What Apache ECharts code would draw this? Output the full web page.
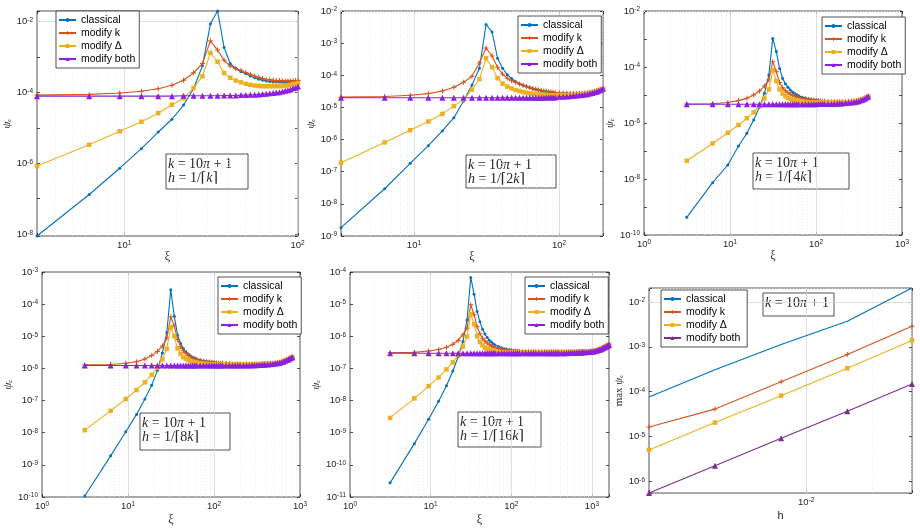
<!DOCTYPE html>
<html>
<head>
<meta charset="utf-8">
<script src="https://cdn.jsdelivr.net/npm/echarts@6/dist/echarts.min.js"></script>
<style>
  html, body { margin: 0; padding: 0; background: #fff; }
  #chart { width: 920px; height: 529px; }
</style>
</head>
<body>
<div id="chart"></div>
<script>
// ---- data: mode numbers n (xi = n*pi) and log10(psi_c) ----

// h = 1/ceil(k)
const p1Modes = [1,2,3,4,5,6,7,8,9,10,11,12,13,14,15,16,17,18,19,20,21,22,23,24,25,26,27,28,29,30,31,32];
const p1Classical = [-8.05,-6.88,-6.14,-5.59,-5.12,-4.76,-4.36,-3.90,-3.25,-2.07,-1.71,-2.74,-3.19,-3.33,-3.42,-3.48,-3.54,-3.59,-3.63,-3.66,-3.68,-3.70,-3.71,-3.71,-3.71,-3.71,-3.71,-3.71,-3.71,-3.70,-3.70,-3.70];
const p1ModK = [-4.08,-4.06,-4.02,-3.97,-3.90,-3.80,-3.66,-3.45,-3.19,-2.55,-2.81,-3.10,-3.26,-3.33,-3.38,-3.44,-3.49,-3.54,-3.58,-3.61,-3.64,-3.65,-3.66,-3.67,-3.67,-3.68,-3.68,-3.68,-3.68,-3.68,-3.67,-3.67];
const p1ModDelta = [-6.08,-5.48,-5.10,-4.83,-4.59,-4.35,-4.17,-3.88,-3.55,-2.89,-3.14,-3.46,-3.59,-3.67,-3.72,-3.76,-3.79,-3.81,-3.82,-3.83,-3.83,-3.83,-3.83,-3.83,-3.83,-3.82,-3.81,-3.80,-3.79,-3.77,-3.76,-3.74];
const p1ModBoth = [-4.11,-4.11,-4.11,-4.11,-4.11,-4.11,-4.10,-4.10,-4.10,-4.10,-4.10,-4.09,-4.09,-4.09,-4.08,-4.08,-4.07,-4.07,-4.06,-4.05,-4.04,-4.03,-4.02,-4.01,-4.00,-3.98,-3.96,-3.94,-3.92,-3.89,-3.87,-3.84];

// h = 1/ceil(2k)
const p2Modes = [1,2,3,4,5,6,7,8,9,10,11,12,13,14,15,16,17,18,19,20,21,22,23,24,25,26,27,28,29,30,32,34,36,38,40,42,44,46,48,50,52,54,56,58,60,62,64];
const p2Classical = [-8.74,-7.53,-6.74,-6.19,-5.73,-5.32,-4.80,-4.30,-3.78,-2.42,-2.65,-3.47,-3.78,-3.98,-4.10,-4.20,-4.26,-4.31,-4.35,-4.39,-4.42,-4.44,-4.46,-4.48,-4.50,-4.51,-4.52,-4.53,-4.54,-4.55,-4.56,-4.56,-4.57,-4.57,-4.57,-4.57,-4.57,-4.56,-4.55,-4.54,-4.53,-4.52,-4.50,-4.48,-4.46,-4.44,-4.42];
const p2ModK = [-4.68,-4.66,-4.62,-4.57,-4.49,-4.37,-4.22,-4.03,-3.61,-3.15,-3.40,-3.75,-3.96,-4.09,-4.17,-4.22,-4.27,-4.31,-4.35,-4.38,-4.41,-4.43,-4.45,-4.47,-4.49,-4.50,-4.51,-4.52,-4.53,-4.54,-4.55,-4.56,-4.56,-4.57,-4.57,-4.57,-4.57,-4.56,-4.55,-4.54,-4.53,-4.52,-4.50,-4.48,-4.46,-4.44,-4.42];
const p2ModDelta = [-6.72,-6.09,-5.71,-5.44,-5.20,-4.96,-4.75,-4.45,-4.12,-3.47,-3.75,-4.09,-4.26,-4.35,-4.41,-4.46,-4.49,-4.52,-4.54,-4.56,-4.57,-4.58,-4.59,-4.60,-4.61,-4.61,-4.62,-4.62,-4.62,-4.62,-4.62,-4.62,-4.62,-4.61,-4.61,-4.60,-4.60,-4.59,-4.58,-4.57,-4.55,-4.54,-4.52,-4.50,-4.47,-4.45,-4.42];
const p2ModBoth = [-4.70,-4.70,-4.70,-4.70,-4.70,-4.70,-4.70,-4.70,-4.70,-4.70,-4.70,-4.70,-4.70,-4.70,-4.70,-4.70,-4.70,-4.70,-4.70,-4.70,-4.70,-4.70,-4.70,-4.70,-4.70,-4.69,-4.69,-4.69,-4.69,-4.69,-4.67,-4.67,-4.66,-4.65,-4.64,-4.63,-4.62,-4.61,-4.60,-4.59,-4.57,-4.55,-4.53,-4.51,-4.48,-4.45,-4.42];

// h = 1/ceil(4k)
const p3Modes = [1,2,3,4,5,6,7,8,9,10,11,12,13,14,15,16,17,18,19,20,22,24,26,28,30,32,34,36,38,40,44,48,52,56,60,64,70,76,82,88,94,100,106,112,118,124,129];
const p3Classical = [-9.37,-8.13,-7.50,-6.82,-6.37,-5.89,-5.44,-4.94,-4.29,-2.98,-3.45,-4.05,-4.40,-4.60,-4.72,-4.82,-4.89,-4.95,-4.99,-5.03,-5.08,-5.11,-5.14,-5.16,-5.18,-5.19,-5.20,-5.21,-5.22,-5.23,-5.24,-5.25,-5.25,-5.25,-5.25,-5.25,-5.24,-5.23,-5.22,-5.21,-5.20,-5.18,-5.16,-5.13,-5.10,-5.07,-5.05];
const p3ModK = [-5.32,-5.31,-5.27,-5.20,-5.12,-5.00,-4.86,-4.68,-4.46,-3.81,-4.17,-4.55,-4.74,-4.85,-4.92,-4.97,-5.01,-5.04,-5.07,-5.09,-5.12,-5.14,-5.16,-5.17,-5.18,-5.19,-5.20,-5.21,-5.22,-5.22,-5.23,-5.24,-5.24,-5.24,-5.24,-5.24,-5.24,-5.23,-5.22,-5.21,-5.20,-5.18,-5.16,-5.13,-5.10,-5.07,-5.05];
const p3ModDelta = [-7.35,-6.73,-6.35,-6.07,-5.83,-5.62,-5.39,-5.12,-4.80,-4.11,-4.50,-4.80,-4.95,-5.04,-5.10,-5.14,-5.17,-5.19,-5.21,-5.22,-5.24,-5.25,-5.26,-5.27,-5.27,-5.27,-5.27,-5.27,-5.27,-5.27,-5.27,-5.27,-5.27,-5.27,-5.27,-5.27,-5.26,-5.26,-5.25,-5.24,-5.22,-5.20,-5.18,-5.15,-5.11,-5.08,-5.05];
const p3ModBoth = [-5.33,-5.33,-5.33,-5.33,-5.33,-5.33,-5.33,-5.33,-5.33,-5.33,-5.33,-5.33,-5.33,-5.33,-5.33,-5.33,-5.33,-5.33,-5.33,-5.33,-5.33,-5.33,-5.33,-5.33,-5.33,-5.33,-5.32,-5.32,-5.32,-5.32,-5.32,-5.32,-5.31,-5.31,-5.30,-5.30,-5.29,-5.28,-5.27,-5.26,-5.24,-5.22,-5.19,-5.17,-5.13,-5.09,-5.05];

// h = 1/ceil(8k)
const p4Modes = [1,2,3,4,5,6,7,8,9,10,11,12,13,14,15,16,17,18,19,20,22,24,26,28,30,32,34,36,38,40,44,48,52,56,60,64,70,76,82,88,94,100,106,112,118,124,134,144,154,164,174,184,194,204,214,224,234,244,254,259];
const p4Classical = [-9.97,-8.72,-7.97,-7.43,-6.95,-6.52,-6.06,-5.52,-4.88,-3.55,-4.38,-4.96,-5.22,-5.38,-5.48,-5.55,-5.61,-5.65,-5.68,-5.71,-5.74,-5.76,-5.78,-5.79,-5.80,-5.81,-5.82,-5.83,-5.83,-5.84,-5.85,-5.86,-5.86,-5.86,-5.86,-5.86,-5.87,-5.87,-5.87,-5.86,-5.86,-5.86,-5.86,-5.86,-5.85,-5.85,-5.85,-5.84,-5.84,-5.83,-5.82,-5.81,-5.79,-5.77,-5.75,-5.73,-5.70,-5.68,-5.66,-5.65];
const p4ModK = [-5.89,-5.88,-5.84,-5.79,-5.71,-5.60,-5.47,-5.30,-5.05,-4.40,-4.68,-5.10,-5.32,-5.45,-5.53,-5.59,-5.64,-5.68,-5.71,-5.73,-5.76,-5.78,-5.79,-5.80,-5.81,-5.82,-5.83,-5.83,-5.84,-5.84,-5.85,-5.85,-5.86,-5.86,-5.86,-5.86,-5.87,-5.87,-5.87,-5.86,-5.86,-5.86,-5.86,-5.86,-5.85,-5.85,-5.85,-5.84,-5.84,-5.83,-5.82,-5.81,-5.79,-5.77,-5.75,-5.73,-5.70,-5.68,-5.66,-5.65];
const p4ModDelta = [-7.92,-7.32,-6.95,-6.67,-6.43,-6.20,-5.98,-5.72,-5.39,-4.71,-5.00,-5.38,-5.55,-5.65,-5.70,-5.74,-5.77,-5.79,-5.81,-5.82,-5.84,-5.85,-5.86,-5.87,-5.87,-5.87,-5.88,-5.88,-5.88,-5.88,-5.88,-5.88,-5.88,-5.88,-5.88,-5.88,-5.88,-5.88,-5.88,-5.88,-5.87,-5.87,-5.87,-5.87,-5.86,-5.86,-5.86,-5.85,-5.85,-5.84,-5.83,-5.82,-5.80,-5.78,-5.76,-5.74,-5.71,-5.69,-5.66,-5.65];
const p4ModBoth = [-5.91,-5.91,-5.91,-5.91,-5.91,-5.91,-5.91,-5.91,-5.91,-5.91,-5.91,-5.91,-5.91,-5.91,-5.91,-5.91,-5.91,-5.91,-5.91,-5.91,-5.91,-5.91,-5.91,-5.91,-5.91,-5.91,-5.91,-5.91,-5.91,-5.91,-5.91,-5.91,-5.91,-5.91,-5.91,-5.91,-5.91,-5.91,-5.91,-5.90,-5.90,-5.90,-5.89,-5.89,-5.89,-5.88,-5.88,-5.87,-5.86,-5.85,-5.84,-5.83,-5.81,-5.79,-5.76,-5.74,-5.72,-5.69,-5.66,-5.65];

// h = 1/ceil(16k)
const p5Modes = [1,2,3,4,5,6,7,8,9,10,11,12,13,14,15,16,17,18,19,20,22,24,26,28,30,32,34,36,38,40,44,48,52,56,60,64,70,76,82,88,94,100,106,112,118,124,134,144,154,164,174,184,194,204,214,224,234,244,254,270,286,302,318,334,350,366,382,398,414,430,446,462,478,494,510,518];
const p5Classical = [-10.56,-9.34,-8.58,-8.02,-7.54,-7.08,-6.63,-6.16,-5.49,-4.17,-4.69,-5.23,-5.55,-5.78,-5.93,-6.04,-6.12,-6.18,-6.23,-6.27,-6.32,-6.36,-6.39,-6.41,-6.42,-6.44,-6.45,-6.45,-6.46,-6.46,-6.47,-6.47,-6.48,-6.48,-6.48,-6.48,-6.48,-6.48,-6.48,-6.48,-6.48,-6.48,-6.48,-6.48,-6.48,-6.48,-6.48,-6.48,-6.48,-6.48,-6.48,-6.48,-6.48,-6.48,-6.47,-6.47,-6.47,-6.47,-6.47,-6.47,-6.47,-6.46,-6.46,-6.45,-6.44,-6.43,-6.41,-6.40,-6.38,-6.36,-6.34,-6.32,-6.30,-6.28,-6.27,-6.26];
const p5ModK = [-6.51,-6.50,-6.46,-6.41,-6.34,-6.25,-6.13,-5.95,-5.75,-5.02,-5.33,-5.70,-5.92,-6.06,-6.15,-6.21,-6.26,-6.30,-6.33,-6.35,-6.38,-6.40,-6.42,-6.43,-6.44,-6.45,-6.46,-6.46,-6.47,-6.47,-6.48,-6.48,-6.48,-6.48,-6.48,-6.48,-6.48,-6.48,-6.48,-6.48,-6.48,-6.48,-6.48,-6.48,-6.48,-6.48,-6.48,-6.48,-6.48,-6.48,-6.48,-6.48,-6.48,-6.48,-6.47,-6.47,-6.47,-6.47,-6.47,-6.47,-6.47,-6.46,-6.46,-6.45,-6.44,-6.43,-6.41,-6.40,-6.38,-6.36,-6.34,-6.32,-6.30,-6.28,-6.27,-6.26];
const p5ModDelta = [-8.54,-7.93,-7.55,-7.28,-7.03,-6.81,-6.58,-6.32,-6.01,-5.31,-5.62,-6.00,-6.18,-6.28,-6.35,-6.39,-6.42,-6.44,-6.46,-6.47,-6.49,-6.50,-6.50,-6.51,-6.51,-6.51,-6.51,-6.51,-6.51,-6.51,-6.51,-6.51,-6.51,-6.51,-6.51,-6.51,-6.51,-6.51,-6.51,-6.51,-6.51,-6.51,-6.51,-6.51,-6.51,-6.51,-6.51,-6.51,-6.51,-6.51,-6.50,-6.50,-6.50,-6.50,-6.50,-6.49,-6.49,-6.49,-6.49,-6.49,-6.48,-6.48,-6.47,-6.46,-6.45,-6.44,-6.42,-6.41,-6.39,-6.37,-6.35,-6.33,-6.31,-6.29,-6.27,-6.26];
const p5ModBoth = [-6.53,-6.53,-6.53,-6.53,-6.53,-6.53,-6.53,-6.53,-6.53,-6.53,-6.53,-6.53,-6.53,-6.53,-6.53,-6.53,-6.53,-6.53,-6.53,-6.53,-6.53,-6.53,-6.53,-6.53,-6.53,-6.53,-6.53,-6.53,-6.53,-6.53,-6.53,-6.53,-6.53,-6.53,-6.53,-6.53,-6.53,-6.53,-6.53,-6.53,-6.53,-6.53,-6.53,-6.53,-6.53,-6.53,-6.53,-6.53,-6.53,-6.52,-6.52,-6.52,-6.52,-6.51,-6.51,-6.51,-6.51,-6.50,-6.50,-6.50,-6.49,-6.49,-6.48,-6.47,-6.46,-6.45,-6.43,-6.42,-6.40,-6.38,-6.36,-6.34,-6.32,-6.30,-6.28,-6.26];

// max over xi versus h
const hValues = [1/519, 1/260, 1/130, 1/65, 1/33];
const maxClassical = [-4.12, -3.51, -2.95, -2.43, -1.69];
const maxModK = [-4.79, -4.39, -3.78, -3.17, -2.54];
const maxModDelta = [-5.30, -4.69, -4.09, -3.48, -2.86];
const maxModBoth = [-6.26, -5.65, -5.04, -4.44, -3.83];

const seriesNames = ['classical', 'modify k', 'modify \u0394', 'modify both'];

// ---- styling ----
const SANS = 'Liberation Sans, Arial, Helvetica, sans-serif';
const SERIF = 'Liberation Serif, DejaVu Serif, Times New Roman, serif';
const AX = '#262626';
const COLORS = ['#0072bd', '#d95319', '#edb120', '#8c1fe0'];
const PLUS = 'path://M4,0H6V4H10V6H6V10H4V6H0V4H4Z';
const SYMBOLS = [['circle', 3], [PLUS, 5], ['rect', 4.5], ['triangle', 6]];
const MAJOR = { color: '#d8d8d8', width: 0.8, type: 'solid' };
const MINOR = { color: '#e4e4e4', width: 0.7, type: [1, 2] };

const tickRich = {
  b: { fontFamily: SANS, fontSize: 9.5, color: AX, lineHeight: 10, padding: [4, 0, 0, 0], verticalAlign: 'bottom' },
  e: { fontFamily: SANS, fontSize: 6.5, color: AX, lineHeight: 7, verticalAlign: 'top' }
};
const expFormatter = (labeled) => (v) => {
  const e = Math.log10(v), r = Math.round(e);
  if (Math.abs(e - r) > 1e-6 || labeled.indexOf(r) < 0) return '';
  return '{b|10}{e|' + r + '}';
};

const pts = (xs, exps) => xs.map((x, i) => [x, Math.pow(10, exps[i])]);
const xiOf = (modes) => modes.map((n) => n * Math.PI);

const panels = [
  { rect: [37, 11, 261, 225], xs: xiOf(p1Modes), ys: [p1Classical, p1ModK, p1ModDelta, p1ModBoth],
    xr: [Math.PI, 32 * Math.PI], yr: null, xl: [1, 2], yl: [-2, -4, -6, -8],
    legend: [56, 11], box: [166, 154, 82, 35], mult: '' },
  { rect: [341, 11, 262, 225], xs: xiOf(p2Modes), ys: [p2Classical, p2ModK, p2ModDelta, p2ModBoth],
    xr: [Math.PI, 64 * Math.PI], yr: [1e-9, 1e-2], xl: [1, 2], yl: [-2, -3, -4, -5, -6, -7, -8, -9],
    legend: [518, 16], box: [466, 155, 90, 33], mult: '2' },
  { rect: [644, 11, 258, 224], xs: xiOf(p3Modes), ys: [p3Classical, p3ModK, p3ModDelta, p3ModBoth],
    xr: [1, 1000], yr: [1e-10, 1e-2], xl: [0, 1, 2, 3], yl: [-2, -4, -6, -8, -10],
    legend: [822, 17], box: [753, 153, 96, 36], mult: '4' },
  { rect: [42, 272, 258, 225], xs: xiOf(p4Modes), ys: [p4Classical, p4ModK, p4ModDelta, p4ModBoth],
    xr: [1, 1000], yr: [1e-10, 1e-3], xl: [0, 1, 2, 3], yl: [-3, -4, -5, -6, -7, -8, -9, -10],
    legend: [218, 277], box: [140, 413, 90, 37], mult: '8' },
  { rect: [350, 272, 259, 225], xs: xiOf(p5Modes), ys: [p5Classical, p5ModK, p5ModDelta, p5ModBoth],
    xr: [1, 518 * Math.PI], yr: [1e-11, 1e-4], xl: [0, 1, 2, 3], yl: [-4, -5, -6, -7, -8, -9, -10, -11],
    legend: [525, 277], box: [458, 412, 83, 35], mult: '16' },
  { rect: [649, 288, 263, 205], xs: hValues, ys: [maxClassical, maxModK, maxModDelta, maxModBoth],
    xr: [1/519, 1/33], yr: null, xl: [-2], yl: [-2, -3, -4, -5, -6],
    legend: [661, 290], box: [763, 293, 71, 23], mult: null }
];

function gridLineItems(key, min, max, labeled) {
  const items = [];
  for (let d = Math.floor(Math.log10(min)); d <= Math.ceil(Math.log10(max)); d++) {
    for (let m = 1; m <= 9; m++) {
      const v = m * Math.pow(10, d);
      if (v <= min * 1.002 || v >= max / 1.002) continue;
      const major = m === 1 && labeled.indexOf(d) >= 0;
      items.push({ [key]: v, lineStyle: major ? MAJOR : MINOR });
    }
  }
  return items;
}

const grids = [], xAxes = [], yAxes = [], series = [], legends = [], graphics = [];
const mirrorTick = { inside: true, length: 3, lineStyle: { color: AX, width: 0.8 } };

panels.forEach((p, i) => {
  const last = i === 5;
  let yMin, yMax;
  if (p.yr) { yMin = p.yr[0]; yMax = p.yr[1]; }
  else {
    const all = [].concat(...p.ys);
    yMin = Math.pow(10, Math.min(...all));
    yMax = Math.pow(10, Math.max(...all));
  }
  const row = p.rect[1] > 200 ? 1 : 0;

  grids.push({ left: p.rect[0], top: p.rect[1], width: p.rect[2], height: p.rect[3],
    show: true, borderColor: AX, borderWidth: 0.8, backgroundColor: '#fff' });

  xAxes.push({
    type: 'log', logBase: 10, gridIndex: i, min: p.xr[0], max: p.xr[1],
    axisLine: { show: false }, splitLine: { show: false },
    axisTick: mirrorTick,
    axisLabel: { formatter: expFormatter(p.xl), rich: tickRich, margin: 4 },
    name: last ? 'h' : '\u03be', nameLocation: 'middle', nameGap: row ? 17 : 14,
    nameTextStyle: last ? { fontFamily: SANS, fontSize: 11, color: AX }
                        : { fontFamily: SERIF, fontSize: 12, color: AX }
  });

  yAxes.push({
    type: 'log', logBase: 10, gridIndex: i, min: yMin, max: yMax,
    axisLine: { show: false }, splitLine: { show: false },
    axisTick: mirrorTick,
    axisLabel: { formatter: expFormatter(p.yl), rich: tickRich, margin: 4 },
    name: last ? '{r|max }{p|\u03c8}{s|c}' : '{p|\u03c8}{s|c}',
    nameLocation: 'middle', nameGap: last ? 20 : 23, nameRotate: 90,
    nameTextStyle: { rich: {
      r: { fontFamily: SERIF, fontSize: 11, color: AX },
      p: { fontFamily: SERIF, fontStyle: 'italic', fontSize: 11, color: AX },
      s: { fontFamily: SERIF, fontStyle: 'italic', fontSize: 7, color: AX, verticalAlign: 'bottom', padding: [5, 0, 0, 0] }
    } }
  });

  // grid lines (major at labelled decades, dotted minor elsewhere)
  series.push({
    name: 'grid' + i, type: 'line', xAxisIndex: i, yAxisIndex: i,
    data: [[p.xr[0], yMin]], showSymbol: false, lineStyle: { width: 0 }, silent: true, z: 1,
    markLine: {
      silent: true, animation: false, symbol: ['none', 'none'], label: { show: false }, z: 1,
      emphasis: { disabled: true },
      data: gridLineItems('xAxis', p.xr[0], p.xr[1], p.xl).concat(gridLineItems('yAxis', yMin, yMax, p.yl))
    }
  });

  p.ys.forEach((ys, s) => {
    let name = seriesNames[s], color = COLORS[s], symbol = SYMBOLS[s][0], size = SYMBOLS[s][1];
    if (last && s === 0) { name = 'classical '; symbol = 'none'; }
    if (last && s === 3) { name = 'modify both '; color = '#7e2f8e'; }
    series.push({
      name, type: 'line', xAxisIndex: i, yAxisIndex: i,
      data: pts(p.xs, ys), symbol, symbolSize: size, showSymbol: symbol !== 'none',
      lineStyle: { width: 1.1, color }, itemStyle: { color }, z: 3 + s,
      emphasis: { disabled: true }, animation: false
    });
  });

  legends.push({
    left: p.legend[0], top: p.legend[1], orient: 'vertical', selectedMode: false,
    data: last ? ['classical ', 'modify k', 'modify \u0394', 'modify both '] : seriesNames,
    backgroundColor: '#fff', borderColor: AX, borderWidth: 0.8, borderRadius: 0,
    padding: [3, 4, 3, 2], itemWidth: 17, itemHeight: 5, itemGap: 1,
    textStyle: { fontFamily: SANS, fontSize: 10.5, color: '#000', lineHeight: 12 }, z: 20
  });

  const txt = '{i|k}{r| = 10}{i|\u03c0}{r| + 1}' +
    (p.mult !== null ? '\n{i|h}{r| = 1/\u2308' + p.mult + '}{i|k}{r|\u2309}' : '');
  graphics.push({
    type: 'group', x: p.box[0], y: p.box[1], z: 30,
    children: [
      { type: 'rect', shape: { x: 0, y: 0, width: p.box[2], height: p.box[3] },
        style: { fill: '#fff', stroke: AX, lineWidth: 0.8 } },
      { type: 'text', x: 2, y: 3, style: {
        text: txt,
        rich: {
          i: { fontFamily: SERIF, fontStyle: 'italic', fontSize: 14, fill: AX, lineHeight: 14 },
          r: { fontFamily: SERIF, fontSize: 14, fill: AX, lineHeight: 14 }
        } } }
    ]
  });
});

// mirrored ticks on the top and right edges of each box
panels.forEach((p, i) => {
  xAxes.push({ type: 'log', logBase: 10, gridIndex: i, position: 'top', min: xAxes[i].min, max: xAxes[i].max,
    axisLine: { show: false }, splitLine: { show: false }, axisLabel: { show: false }, axisTick: mirrorTick });
  yAxes.push({ type: 'log', logBase: 10, gridIndex: i, position: 'right', min: yAxes[i].min, max: yAxes[i].max,
    axisLine: { show: false }, splitLine: { show: false }, axisLabel: { show: false }, axisTick: mirrorTick });
});

const chart = echarts.init(document.getElementById('chart'), null, { renderer: 'canvas' });
chart.setOption({
  animation: false,
  backgroundColor: '#fff',
  grid: grids, xAxis: xAxes, yAxis: yAxes,
  legend: legends, series: series, graphic: graphics
});
</script>
</body>
</html>
